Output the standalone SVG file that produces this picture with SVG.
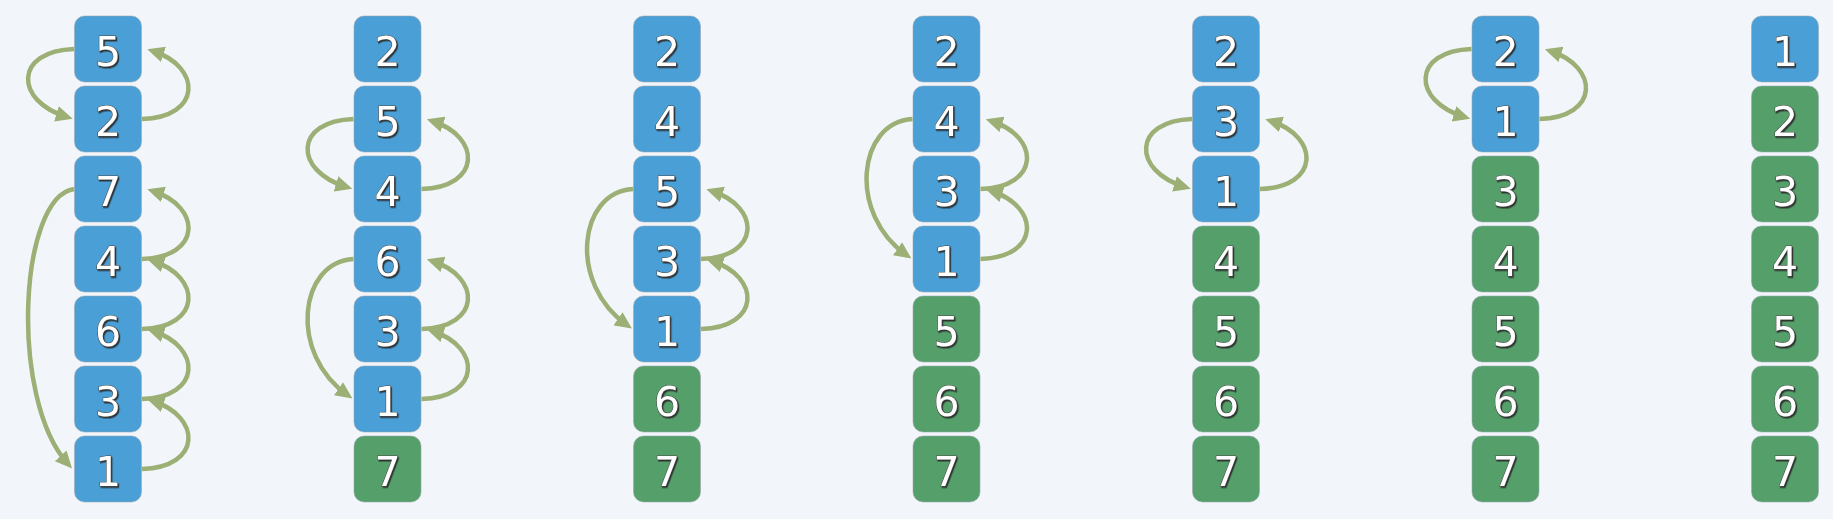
<svg xmlns="http://www.w3.org/2000/svg" width="1833" height="519" viewBox="0 0 1833 519">
<defs>
<style>
.bg{fill:#f2f6fb}
.n rect{stroke:#9aa4ae;stroke-opacity:0.55;stroke-width:1}
.b rect{fill:#4aa0d6}
.g rect{fill:#55a06a}
.n text{font-family:"DejaVu Sans",sans-serif;font-size:41px;fill:#ffffff;stroke:#4a4a4a;stroke-width:1.1;paint-order:stroke;text-anchor:middle;filter:url(#ts)}
.c path{fill:none;stroke:#9caf74;stroke-width:4.5;marker-end:url(#ah)}
</style>
<filter id="ts" x="-20%" y="-20%" width="140%" height="140%">
<feDropShadow dx="1.2" dy="1.5" stdDeviation="0.4" flood-color="#2a2a2a" flood-opacity="0.9"/>
</filter>
<marker id="ah" viewBox="0 0 17 16" markerWidth="17" markerHeight="16" markerUnits="userSpaceOnUse" refX="11" refY="8" orient="auto">
<path d="M0,0 L17,8 L0,16 z" fill="#9caf74"/>
</marker>
</defs>
<rect class="bg" x="0" y="0" width="1833" height="519"/>

<!-- Column 1 -->
<g id="c1r0" class="n b"><rect x="74.5" y="16" width="67" height="66" rx="10"/><text x="108" y="65.5">5</text></g>
<g id="c1r1" class="n b"><rect x="74.5" y="86" width="67" height="66" rx="10"/><text x="108" y="135.5">2</text></g>
<g id="c1r2" class="n b"><rect x="74.5" y="156" width="67" height="66" rx="10"/><text x="108" y="205.5">7</text></g>
<g id="c1r3" class="n b"><rect x="74.5" y="226" width="67" height="66" rx="10"/><text x="108" y="275.5">4</text></g>
<g id="c1r4" class="n b"><rect x="74.5" y="296" width="67" height="66" rx="10"/><text x="108" y="345.5">6</text></g>
<g id="c1r5" class="n b"><rect x="74.5" y="366" width="67" height="66" rx="10"/><text x="108" y="415.5">3</text></g>
<g id="c1r6" class="n b"><rect x="74.5" y="436" width="67" height="66" rx="10"/><text x="108" y="485.5">1</text></g>

<!-- Column 2 -->
<g id="c2r0" class="n b"><rect x="354" y="16" width="67" height="66" rx="10"/><text x="387.5" y="65.5">2</text></g>
<g id="c2r1" class="n b"><rect x="354" y="86" width="67" height="66" rx="10"/><text x="387.5" y="135.5">5</text></g>
<g id="c2r2" class="n b"><rect x="354" y="156" width="67" height="66" rx="10"/><text x="387.5" y="205.5">4</text></g>
<g id="c2r3" class="n b"><rect x="354" y="226" width="67" height="66" rx="10"/><text x="387.5" y="275.5">6</text></g>
<g id="c2r4" class="n b"><rect x="354" y="296" width="67" height="66" rx="10"/><text x="387.5" y="345.5">3</text></g>
<g id="c2r5" class="n b"><rect x="354" y="366" width="67" height="66" rx="10"/><text x="387.5" y="415.5">1</text></g>
<g id="c2r6" class="n g"><rect x="354" y="436" width="67" height="66" rx="10"/><text x="387.5" y="485.5">7</text></g>

<!-- Column 3 -->
<g id="c3r0" class="n b"><rect x="633.5" y="16" width="67" height="66" rx="10"/><text x="667" y="65.5">2</text></g>
<g id="c3r1" class="n b"><rect x="633.5" y="86" width="67" height="66" rx="10"/><text x="667" y="135.5">4</text></g>
<g id="c3r2" class="n b"><rect x="633.5" y="156" width="67" height="66" rx="10"/><text x="667" y="205.5">5</text></g>
<g id="c3r3" class="n b"><rect x="633.5" y="226" width="67" height="66" rx="10"/><text x="667" y="275.5">3</text></g>
<g id="c3r4" class="n b"><rect x="633.5" y="296" width="67" height="66" rx="10"/><text x="667" y="345.5">1</text></g>
<g id="c3r5" class="n g"><rect x="633.5" y="366" width="67" height="66" rx="10"/><text x="667" y="415.5">6</text></g>
<g id="c3r6" class="n g"><rect x="633.5" y="436" width="67" height="66" rx="10"/><text x="667" y="485.5">7</text></g>

<!-- Column 4 -->
<g id="c4r0" class="n b"><rect x="913" y="16" width="67" height="66" rx="10"/><text x="946.5" y="65.5">2</text></g>
<g id="c4r1" class="n b"><rect x="913" y="86" width="67" height="66" rx="10"/><text x="946.5" y="135.5">4</text></g>
<g id="c4r2" class="n b"><rect x="913" y="156" width="67" height="66" rx="10"/><text x="946.5" y="205.5">3</text></g>
<g id="c4r3" class="n b"><rect x="913" y="226" width="67" height="66" rx="10"/><text x="946.5" y="275.5">1</text></g>
<g id="c4r4" class="n g"><rect x="913" y="296" width="67" height="66" rx="10"/><text x="946.5" y="345.5">5</text></g>
<g id="c4r5" class="n g"><rect x="913" y="366" width="67" height="66" rx="10"/><text x="946.5" y="415.5">6</text></g>
<g id="c4r6" class="n g"><rect x="913" y="436" width="67" height="66" rx="10"/><text x="946.5" y="485.5">7</text></g>

<!-- Column 5 -->
<g id="c5r0" class="n b"><rect x="1192.5" y="16" width="67" height="66" rx="10"/><text x="1226" y="65.5">2</text></g>
<g id="c5r1" class="n b"><rect x="1192.5" y="86" width="67" height="66" rx="10"/><text x="1226" y="135.5">3</text></g>
<g id="c5r2" class="n b"><rect x="1192.5" y="156" width="67" height="66" rx="10"/><text x="1226" y="205.5">1</text></g>
<g id="c5r3" class="n g"><rect x="1192.5" y="226" width="67" height="66" rx="10"/><text x="1226" y="275.5">4</text></g>
<g id="c5r4" class="n g"><rect x="1192.5" y="296" width="67" height="66" rx="10"/><text x="1226" y="345.5">5</text></g>
<g id="c5r5" class="n g"><rect x="1192.5" y="366" width="67" height="66" rx="10"/><text x="1226" y="415.5">6</text></g>
<g id="c5r6" class="n g"><rect x="1192.5" y="436" width="67" height="66" rx="10"/><text x="1226" y="485.5">7</text></g>

<!-- Column 6 -->
<g id="c6r0" class="n b"><rect x="1472" y="16" width="67" height="66" rx="10"/><text x="1505.5" y="65.5">2</text></g>
<g id="c6r1" class="n b"><rect x="1472" y="86" width="67" height="66" rx="10"/><text x="1505.5" y="135.5">1</text></g>
<g id="c6r2" class="n g"><rect x="1472" y="156" width="67" height="66" rx="10"/><text x="1505.5" y="205.5">3</text></g>
<g id="c6r3" class="n g"><rect x="1472" y="226" width="67" height="66" rx="10"/><text x="1505.5" y="275.5">4</text></g>
<g id="c6r4" class="n g"><rect x="1472" y="296" width="67" height="66" rx="10"/><text x="1505.5" y="345.5">5</text></g>
<g id="c6r5" class="n g"><rect x="1472" y="366" width="67" height="66" rx="10"/><text x="1505.5" y="415.5">6</text></g>
<g id="c6r6" class="n g"><rect x="1472" y="436" width="67" height="66" rx="10"/><text x="1505.5" y="485.5">7</text></g>

<!-- Column 7 -->
<g id="c7r0" class="n b"><rect x="1751.5" y="16" width="67" height="66" rx="10"/><text x="1785" y="65.5">1</text></g>
<g id="c7r1" class="n g"><rect x="1751.5" y="86" width="67" height="66" rx="10"/><text x="1785" y="135.5">2</text></g>
<g id="c7r2" class="n g"><rect x="1751.5" y="156" width="67" height="66" rx="10"/><text x="1785" y="205.5">3</text></g>
<g id="c7r3" class="n g"><rect x="1751.5" y="226" width="67" height="66" rx="10"/><text x="1785" y="275.5">4</text></g>
<g id="c7r4" class="n g"><rect x="1751.5" y="296" width="67" height="66" rx="10"/><text x="1785" y="345.5">5</text></g>
<g id="c7r5" class="n g"><rect x="1751.5" y="366" width="67" height="66" rx="10"/><text x="1785" y="415.5">6</text></g>
<g id="c7r6" class="n g"><rect x="1751.5" y="436" width="67" height="66" rx="10"/><text x="1785" y="485.5">7</text></g>

<g id="connectors" class="c">
<!-- Column 1 -->
<path d="M74,49 C14,51 14,101 67,117"/>
<path d="M74,189 C19,197 9,399 68,464"/>
<path d="M142,119 C202,117 202,67 153,51"/>
<path d="M142,259 C202,257 202,207 153,191"/>
<path d="M142,329 C202,327 202,277 153,261"/>
<path d="M142,399 C202,397 202,347 153,331"/>
<path d="M142,469 C202,467 202,417 153,401"/>
<!-- Column 2 -->
<path d="M353.5,119 C293.5,121 293.5,171 346.5,187"/>
<path d="M353.5,259 C298.5,262 288.5,354 347.5,395"/>
<path d="M421.5,189 C481.5,187 481.5,137 432.5,121"/>
<path d="M421.5,329 C481.5,327 481.5,277 432.5,261"/>
<path d="M421.5,399 C481.5,397 481.5,347 432.5,331"/>
<!-- Column 3 -->
<path d="M633,189 C578,192 568,284 627,325"/>
<path d="M701,259 C761,257 761,207 712,191"/>
<path d="M701,329 C761,327 761,277 712,261"/>
<!-- Column 4 -->
<path d="M912.5,119 C857.5,122 847.5,214 906.5,255"/>
<path d="M980.5,189 C1040.5,187 1040.5,137 991.5,121"/>
<path d="M980.5,259 C1040.5,257 1040.5,207 991.5,191"/>
<!-- Column 5 -->
<path d="M1192,119 C1132,121 1132,171 1185,187"/>
<path d="M1260,189 C1320,187 1320,137 1271,121"/>
<!-- Column 6 -->
<path d="M1471.5,49 C1411.5,51 1411.5,101 1464.5,117"/>
<path d="M1539.5,119 C1599.5,117 1599.5,67 1550.5,51"/>
</g>
</svg>
